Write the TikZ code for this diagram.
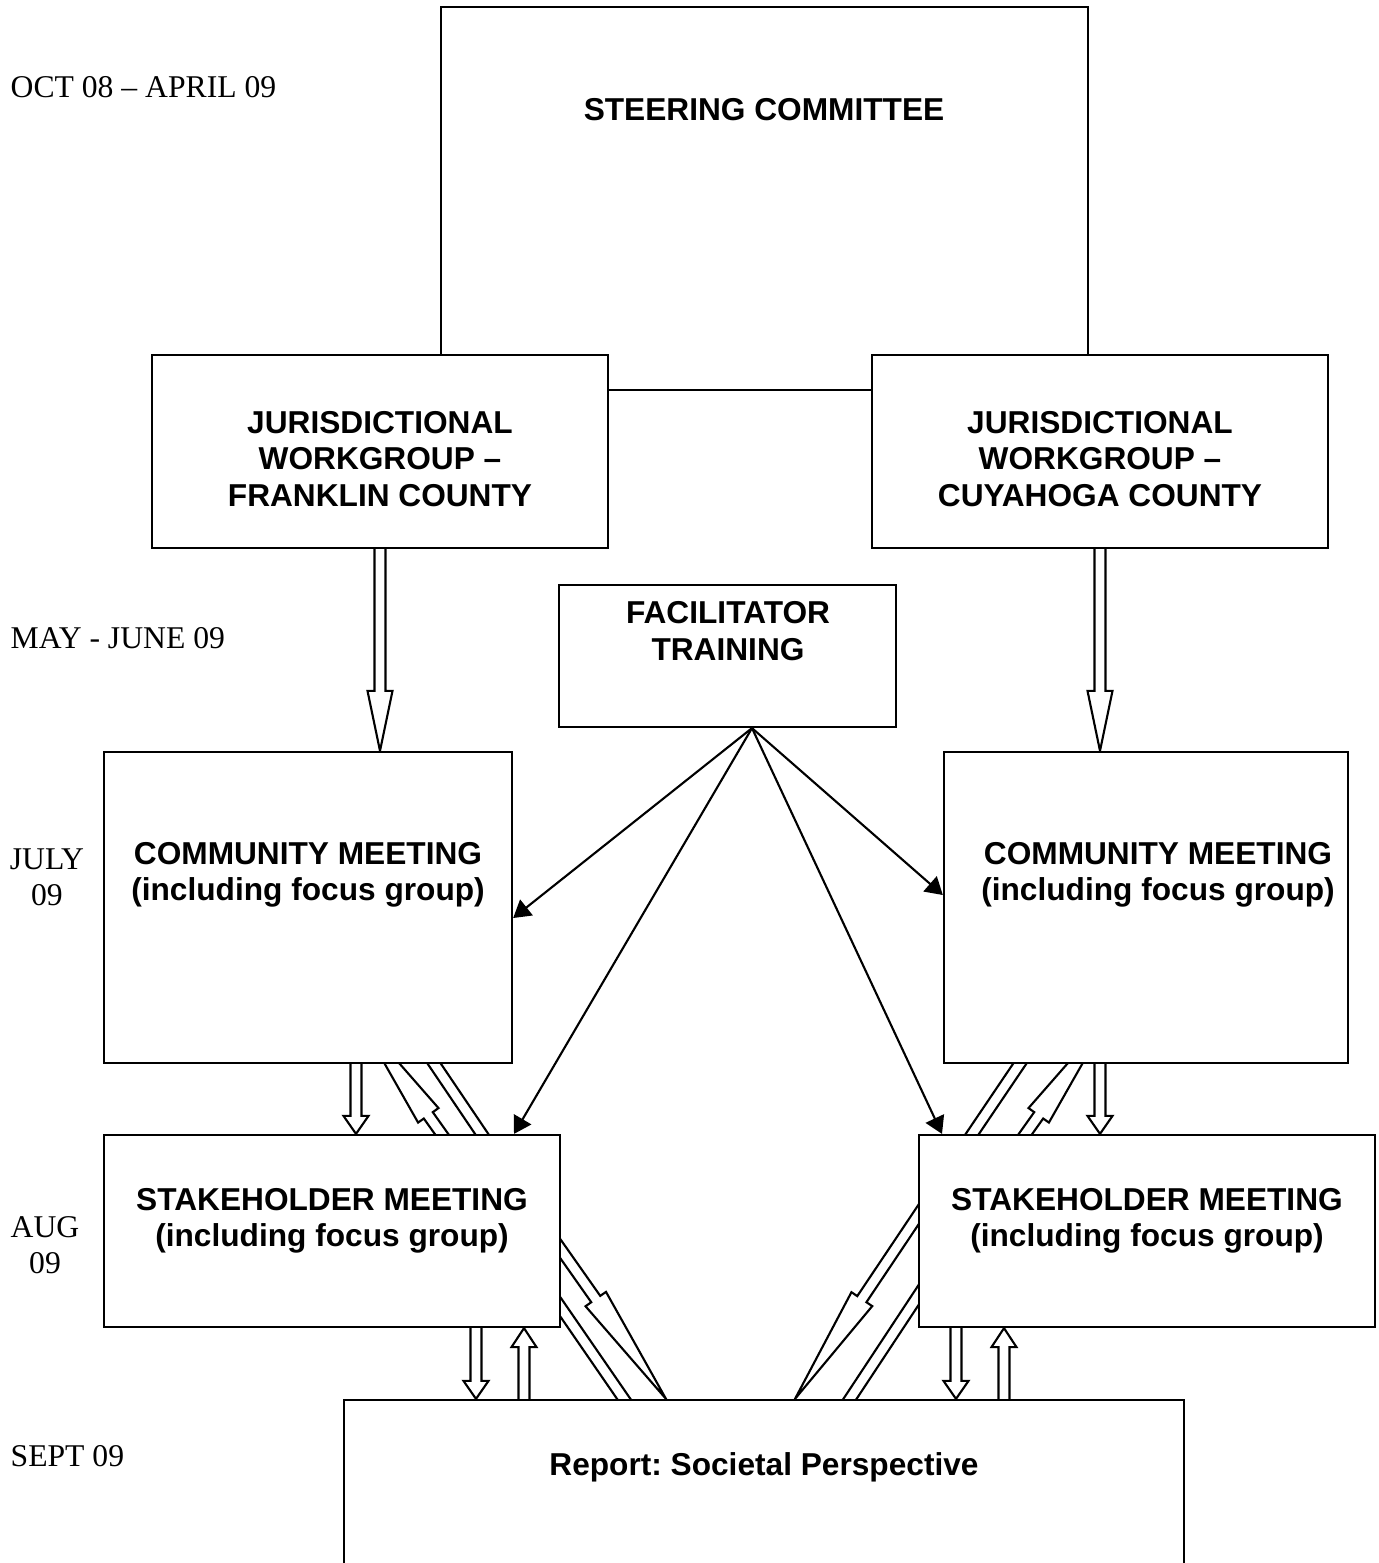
\documentclass[tikz,border=0pt]{standalone}
\usepackage{fontspec}
\setmainfont{Liberation Serif}
\newfontfamily\arialfont{Liberation Sans}
\usetikzlibrary{arrows.meta, calc, backgrounds}
\frenchspacing

\tikzset{
  box/.style={draw, fill=white, line width=0.6pt, inner sep=0pt},
  boxtext/.style={font=\arialfont\bfseries\fontsize{9}{10.35}\selectfont, align=center, inner sep=0pt},
  datetext/.style={font=\fontsize{9}{10.35}\selectfont, align=center, inner sep=0pt},
  hollow/.style={draw, fill=white, line width=0.6pt, line join=miter},
  link/.style={line width=0.6pt, ->},
}

% hollow block arrow: tail, tip, head length
\newcommand{\hollowarrow}[3]{%
  \coordinate (ht) at (#1);
  \coordinate (hh) at (#2);
  \coordinate (hb) at ($(hh)!#3!(ht)$);
  \draw[hollow] ($(ht)!0.055cm!90:(hh)$) -- ($(hb)!0.055cm!90:(hh)$)
    -- ($(hb)!0.125cm!90:(hh)$) -- (hh) -- ($(hb)!0.125cm!-90:(hh)$)
    -- ($(hb)!0.055cm!-90:(hh)$) -- ($(ht)!0.055cm!-90:(hh)$) -- cycle;
}

\begin{document}
\begin{tikzpicture}[x=0.01cm, y=-0.01cm, >={Triangle[length=1.7mm, width=2mm]}]
    \useasboundingbox (0,0) rectangle (1378,1563);
    \clip (0,0) rectangle (1378,1563);

    % boxes
    \node[box, minimum width=6.47cm, minimum height=3.83cm] (steer) at (764.5,198.5) {};
    \node[box, minimum width=4.56cm, minimum height=1.93cm] (frank) at (380,451.5) {};
    \node[box, minimum width=4.56cm, minimum height=1.93cm] (cuya) at (1100,451.5) {};
    \node[box, minimum width=3.37cm, minimum height=1.42cm] (facil) at (727.5,656) {};
    \node[box, minimum width=4.08cm, minimum height=3.11cm] (comL) at (308,907.5) {};
    \node[box, minimum width=4.04cm, minimum height=3.11cm] (comR) at (1146,907.5) {};
    \node[box, minimum width=4.56cm, minimum height=1.92cm] (stkL) at (332,1231) {};
    \node[box, minimum width=4.56cm, minimum height=1.92cm] (stkR) at (1147,1231) {};
    \node[box, minimum width=8.40cm, minimum height=2.20cm] (report) at (764,1510) {};

    % hollow arrows, half hidden under the boxes
    \begin{scope}[on background layer]
        \fill[white] (0,0) rectangle (1378,1563);
        \hollowarrow{frank.center}{frank.center |- comL.north}{0.6cm}
        \hollowarrow{cuya.center}{cuya.center |- comR.north}{0.6cm}
        \hollowarrow{comL.center -| 356,0}{stkL.north -| 356,0}{0.18cm}
        \hollowarrow{comR.center -| 1100,0}{stkR.north -| 1100,0}{0.18cm}
        \hollowarrow{470,1174}{357,1015}{1.23cm}
        \hollowarrow{400,1013}{527,1201}{0.5cm}
        \hollowarrow{997,1174}{1110,1015}{1.23cm}
        \hollowarrow{1054,1013}{927,1201}{0.5cm}
        \hollowarrow{stkL.center -| 476,0}{report.north -| 476,0}{0.18cm}
        \hollowarrow{report.center -| 524,0}{stkL.south -| 524,0}{0.19cm}
        \hollowarrow{stkR.center -| 956,0}{report.north -| 956,0}{0.18cm}
        \hollowarrow{report.center -| 1004,0}{stkR.south -| 1004,0}{0.19cm}
        \hollowarrow{531,1207}{report.north -| 666,0}{1.22cm}
        \hollowarrow{537,1273}{670,1466}{0.5cm}
        \hollowarrow{939,1184}{report.north -| 795,0}{1.2cm}
        \hollowarrow{941,1261}{805,1467}{0.5cm}
    \end{scope}

    % facilitator links
    \coordinate (facout) at (facil.south -| 752,0);
    \draw[link] (facout) -- (comL.east |- 0,918);
    \draw[link] (facout) -- (stkL.north -| 514,0);
    \draw[link] (facout) -- (comR.west |- 0,895);
    \draw[link] (facout) -- (stkR.north -| 942,0);

    % box texts
    \node[boxtext] (steerlbl) at (764,110) {STEERING COMMITTEE};
    \node[boxtext] (franklbl) at (380,459) {JURISDICTIONAL\\WORKGROUP –\\FRANKLIN COUNTY};
    \node[boxtext] (cuyalbl) at (1100,459) {JURISDICTIONAL\\WORKGROUP –\\CUYAHOGA COUNTY};
    \node[boxtext] (facillbl) at (728,631) {FACILITATOR\\TRAINING};
    \node[boxtext] (comLlbl) at (308,875) {COMMUNITY MEETING\\(including focus group)};
    \node[boxtext] (comRlbl) at (1158,875) {COMMUNITY MEETING\\(including focus group)};
    \node[boxtext] (stkLlbl) at (332,1221) {STAKEHOLDER MEETING\\(including focus group)};
    \node[boxtext] (stkRlbl) at (1147,1221) {STAKEHOLDER MEETING\\(including focus group)};
    \node[boxtext] (reportlbl) at (764,1467) {Report: Societal Perspective};

    % dates
    \node[datetext, anchor=west] (d1) at (10,87) {OCT 08 – APRIL 09};
    \node[datetext, anchor=west] (d2) at (10,638) {MAY - JUNE 09};
    \node[datetext] (d3) at (47,877) {JULY\\09};
    \node[datetext] (d4) at (45,1245) {AUG\\09};
    \node[datetext, anchor=west] (d5) at (10,1456) {SEPT 09};
\end{tikzpicture}
\end{document}
